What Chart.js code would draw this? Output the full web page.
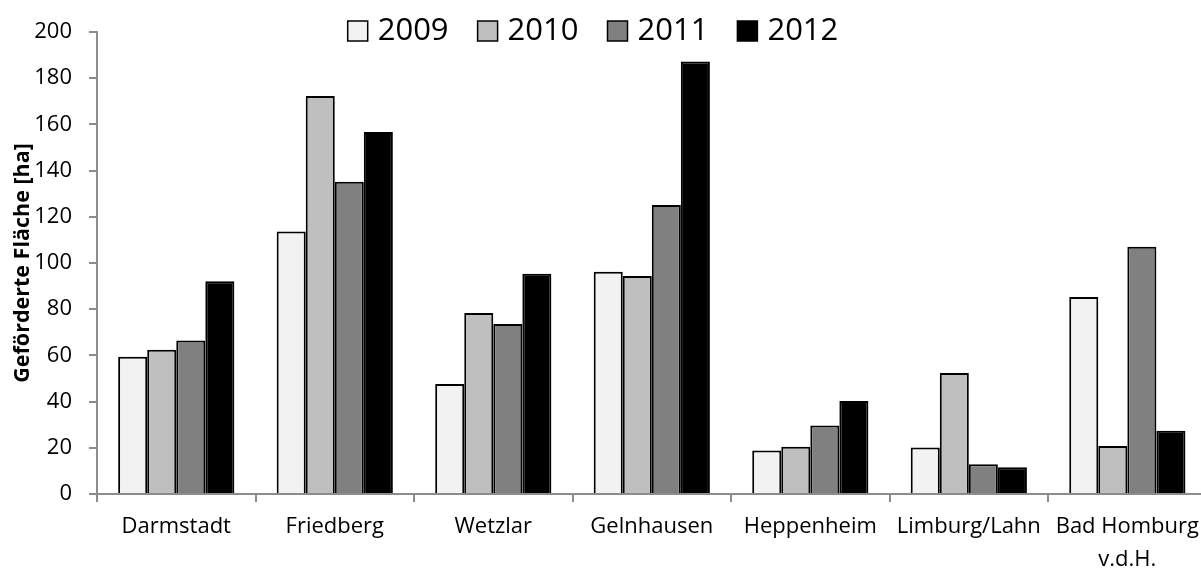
<!DOCTYPE html>
<html>
<head>
<meta charset="utf-8">
<script src="https://cdn.jsdelivr.net/npm/chart.js@4.4.1/dist/chart.umd.min.js"></script>
<style>
  html, body { margin: 0; padding: 0; background: #fff; overflow: hidden; }
  #wrap { position: relative; width: 1207px; height: 570px; }
</style>
</head>
<body>
<div id="wrap"><canvas id="c"></canvas></div>
<script>
const categories = ["Darmstadt", "Friedberg", "Wetzlar", "Gelnhausen", "Heppenheim", "Limburg/Lahn", ["Bad Homburg", "v.d.H."]];
const seriesLabels = ["2009", "2010", "2011", "2012"];
const values2009 = [59.4, 113.6, 47.6, 96.2, 18.8, 20.1, 85.3];
const values2010 = [62.5, 172.3, 78.4, 94.4, 20.5, 52.4, 20.8];
const values2011 = [66.4, 135.2, 73.6, 125.1, 29.7, 12.9, 107.0];
const values2012 = [92.1, 156.7, 95.4, 187.2, 40.3, 11.6, 27.4];
const yTicks = [0, 20, 40, 60, 80, 100, 120, 140, 160, 180, 200];
const yTitle = "Geförderte Fläche [ha]";
const colors = ["#f2f2f2", "#bfbfbf", "#808080", "#000000"];

const FONT = "'Open Sans', sans-serif";

const legendPlugin = {
  id: 'customLegend',
  afterDraw(chart) {
    const ctx = chart.ctx;
    ctx.save();
    ctx.font = "31px " + FONT;
    const box = 20, gap = 10, itemGap = 29;
    const items = chart.data.datasets.map(d => ({label: d.label, color: d.backgroundColor, w: ctx.measureText(d.label).width}));
    let total = 0;
    items.forEach((it, i) => { total += box + gap + it.w + (i < items.length - 1 ? itemGap : 0); });
    let x = 593 - total / 2;
    const boxTop = 21, baseline = 40;
    items.forEach(it => {
      ctx.fillStyle = it.color;
      ctx.fillRect(x, boxTop, box, box);
      ctx.strokeStyle = "#000";
      ctx.lineWidth = 1.5;
      ctx.strokeRect(x, boxTop, box, box);
      ctx.fillStyle = "#000";
      ctx.textBaseline = "alphabetic";
      ctx.textAlign = "left";
      ctx.fillText(it.label, x + box + gap, baseline);
      x += box + gap + it.w + itemGap;
    });
    ctx.restore();
  }
};

const seriesValues = [values2009, values2010, values2011, values2012];

new Chart(document.getElementById('c'), {
  type: 'bar',
  data: {
    labels: categories,
    datasets: seriesLabels.map((lab, i) => ({
      label: lab,
      data: seriesValues[i],
      backgroundColor: colors[i],
      borderColor: "#000",
      borderWidth: 2,
      categoryPercentage: 0.733,
      barPercentage: 1.0
    }))
  },
  options: {
    responsive: true,
    maintainAspectRatio: false,
    animation: false,
    layout: { padding: { top: 32, right: 0, bottom: 0, left: 0 } },
    plugins: {
      legend: { display: false },
      tooltip: { enabled: false }
    },
    scales: {
      x: {
        offset: true,
        afterFit: (s) => { s.height = 76; },
        grid: { display: true, drawOnChartArea: false, drawTicks: true, tickLength: 8, color: "#8c8c8c", lineWidth: 2, offset: true },
        border: { display: true, color: "#8c8c8c", width: 2 },
        ticks: {
          color: "#000",
          font: { family: FONT, size: 22, lineHeight: 1.5 },
          padding: 8,
          maxRotation: 0,
          autoSkip: false
        }
      },
      y: {
        min: 0,
        max: 200,
        afterBuildTicks: (s) => { s.ticks = yTicks.map(v => ({ value: v })); },
        afterFit: (s) => { s.width = 97; },
        grid: { display: true, drawOnChartArea: false, drawTicks: true, tickLength: 8, color: "#8c8c8c", lineWidth: 2 },
        border: { display: true, color: "#8c8c8c", width: 2 },
        ticks: {
          color: "#000",
          font: { family: FONT, size: 22 },
          padding: 17
        },
        title: {
          display: true,
          text: yTitle,
          color: "#000",
          font: { family: FONT, size: 21.5, weight: 'bold' },
          padding: { top: 10, bottom: 0 }
        }
      }
    }
  },
  plugins: [legendPlugin]
});
</script>
</body>
</html>
